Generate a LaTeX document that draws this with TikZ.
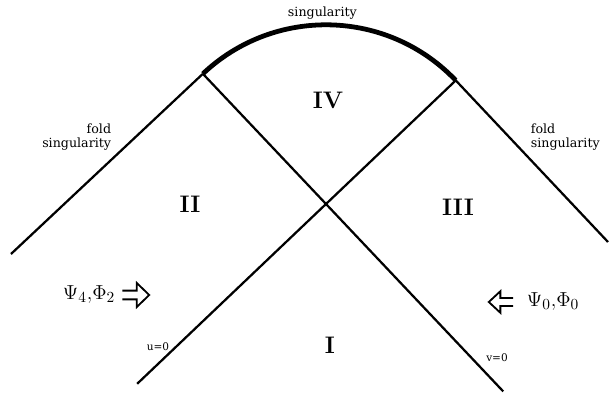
\documentclass[tikz,border=0pt]{standalone}
\usepackage{fontspec}
\newfontfamily\labelfont{DejaVu Serif}
\usetikzlibrary{positioning,calc}

\begin{document}
\begin{tikzpicture}[
  edge/.style={line width=1.6pt},
  sing/.style={line width=3.4pt},
  region/.style={font=\fontsize{17}{20}\selectfont\bfseries},
  lbl/.style={font=\labelfont\fontsize{9}{10.5}\selectfont, inner sep=1pt},
  axis/.style={font=\labelfont\fontsize{7.5}{9}\selectfont, inner sep=0pt},
  field/.style={font=\fontsize{15}{17}\selectfont, inner sep=0pt},
  hollow/.style={line width=1.3pt, line join=miter}
]
\useasboundingbox (-8.15,-4.725) rectangle (7.1,5.1);

% crossing and the ends of the null lines
\coordinate (X) at (0,0);
\coordinate (jl) at (133.4:4.48);
\coordinate (jr) at (43.6:4.48);
\coordinate (ubot) at (223.6:6.52);
\coordinate (vbot) at (313.4:6.45);
\coordinate (lend) at (-7.875,-1.25);
\coordinate (rend) at (7.05,-0.95);

% singularity arc, centred on the crossing
\draw[sing] (jr) arc[start angle=43.6, end angle=133.4, radius=4.48];
\draw[edge] (jl) -- (lend);
\draw[edge] (jr) -- (rend);
\draw[edge] (jl) -- (vbot);
\draw[edge] (jr) -- (ubot);

\node[lbl] (topsing) at (-0.09,4.775) {singularity};
\node[lbl, anchor=east, align=right] (lfold) at (-5.33,1.675) {fold\\singularity};
\node[lbl, anchor=west, align=left] (rfold) at (5.08,1.675) {fold\\singularity};

\node[region] (r1) at (0.1,-3.525) {I};
\node[region] (r2) at (-3.4,0.0) {II};
\node[region] (r3) at (3.3,-0.075) {III};
\node[region] (r4) at (0.05,2.6) {IV};

\node[axis] (u0) at (-4.2,-3.575) {u=0};
\node[axis] (v0) at (4.275,-3.85) {v=0};

\node[field] (inL) at (-5.925,-2.275) {$\Psi_4{,}\Phi_2$};
\node[field] (inR) at (5.675,-2.45) {$\Psi_0{,}\Phi_0$};

% hollow arrows
\coordinate (arL) at (-4.75,-2.275);
\coordinate (arR) at (4.36,-2.45);
\draw[hollow] (arL) ++(-0.34,0.11) -- ++(0.36,0) -- ++(0,0.19) -- ++(0.31,-0.3)
  -- ++(-0.31,-0.3) -- ++(0,0.19) -- ++(-0.36,0);
\draw[hollow] (arR) ++(0.32,0.1) -- ++(-0.32,0) -- ++(0,0.17) -- ++(-0.29,-0.27)
  -- ++(0.29,-0.27) -- ++(0,0.17) -- ++(0.32,0);
\end{tikzpicture}
\end{document}
